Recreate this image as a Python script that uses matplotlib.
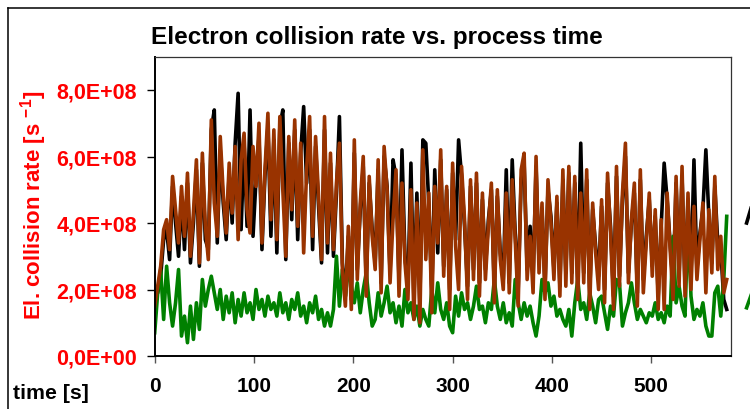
import numpy as np
import matplotlib
matplotlib.use("Agg")
import matplotlib.pyplot as plt
from matplotlib import font_manager
from matplotlib.ticker import FuncFormatter, MultipleLocator
from matplotlib.lines import Line2D

# collision rates in units of 1E+08 1/s, sampled every 3 s
brown = [
    1.5, 2.1, 2.7, 3.8, 4.1, 3.2, 5.4, 4.4, 3.4, 5.1,
    3.6, 5.5, 3.0, 4.3, 5.9, 2.8, 6.1, 3.9, 2.9, 7.1,
    4.6, 3.6, 6.6, 4.9, 3.7, 5.8, 4.3, 6.3, 3.5, 5.9,
    6.7, 4.4, 3.7, 6.3, 5.1, 7.0, 3.4, 5.6, 7.3, 4.1,
    6.8, 3.5, 7.2, 5.0, 3.0, 6.6, 4.4, 7.1, 3.9, 6.4,
    3.1, 5.6, 7.2, 3.6, 6.6, 4.8, 2.9, 7.2, 3.4, 6.1,
    3.2, 5.2, 6.4, 2.6, 1.5, 3.9, 1.4, 6.5, 2.3, 4.6,
    6.0, 1.8, 5.4, 3.6, 2.6, 5.9, 1.9, 6.3, 5.0, 2.2,
    4.1, 5.6, 1.8, 5.2, 2.8, 1.7, 5.0, 1.1, 4.6, 1.0,
    6.2, 2.9, 4.9, 1.3, 5.1, 3.4, 6.2, 2.4, 5.1, 1.4,
    5.8, 3.3, 2.0, 5.7, 4.1, 1.7, 5.3, 2.3, 5.5, 1.8,
    4.9, 2.3, 3.9, 5.2, 1.6, 5.0, 2.9, 2.0, 4.9, 1.9,
    5.3, 3.5, 1.5, 5.6, 6.1, 2.3, 3.6, 1.9, 6.0, 2.5,
    4.6, 1.7, 5.3, 4.0, 2.3, 4.8, 1.8, 5.6, 2.1, 5.7,
    2.2, 5.4, 1.7, 4.9, 2.2, 5.6, 1.4, 4.6, 3.1, 2.0,
    4.7, 1.6, 5.5, 3.7, 1.4, 5.7, 2.1, 4.9, 6.4, 2.2,
    4.1, 5.2, 1.5, 5.6, 1.9, 3.4, 4.9, 2.4, 4.4, 1.4,
    4.1, 1.4, 4.9, 3.2, 1.7, 5.4, 2.1, 5.7, 1.8, 4.9,
    2.0, 4.5, 2.3, 3.5, 4.6, 1.9, 4.4, 2.5, 5.4, 2.6,
    3.6, 1.9, 2.3]

black = [
    1.7, 1.9, 2.4, 3.5, 3.8, 2.9, 5.1, 4.0, 3.0, 4.8,
    3.2, 5.2, 2.8, 4.0, 5.6, 2.7, 5.8, 3.5, 3.2, 6.8,
    7.4, 3.4, 6.2, 4.6, 3.5, 5.5, 4.0, 6.4, 7.9, 3.8,
    6.4, 3.9, 7.4, 3.6, 5.3, 6.6, 3.2, 5.4, 6.9, 3.6,
    6.5, 3.1, 6.9, 7.4, 2.9, 6.4, 4.1, 6.8, 3.5, 6.1,
    7.5, 5.2, 6.8, 3.2, 6.3, 4.5, 2.8, 6.8, 3.1, 5.8,
    3.0, 4.9, 7.2, 2.8, 1.8, 3.6, 1.7, 6.1, 2.6, 4.4,
    5.7, 2.1, 5.2, 3.8, 2.8, 5.6, 2.2, 6.0, 5.1, 2.5,
    5.9, 5.4, 2.3, 6.2, 3.0, 2.1, 5.8, 1.7, 4.9, 1.6,
    6.5, 6.4, 4.6, 1.9, 5.6, 3.1, 5.9, 2.7, 5.0, 2.0,
    5.5, 3.5, 6.5, 5.4, 3.9, 2.1, 5.1, 2.6, 5.2, 2.2,
    4.7, 2.6, 4.1, 5.0, 2.0, 4.8, 3.1, 2.3, 5.6, 2.2,
    5.9, 3.7, 2.0, 5.3, 5.8, 2.6, 3.9, 2.3, 5.7, 2.8,
    4.4, 2.1, 5.0, 4.2, 2.6, 4.6, 2.1, 5.3, 2.5, 5.5,
    2.5, 5.2, 2.1, 6.4, 2.5, 5.3, 1.9, 4.4, 3.3, 2.4,
    4.5, 2.0, 5.2, 3.9, 1.8, 5.4, 2.4, 4.7, 6.0, 2.5,
    4.0, 4.9, 1.9, 5.3, 2.3, 3.6, 4.7, 2.7, 4.2, 1.8,
    3.9, 5.8, 4.7, 3.4, 2.1, 5.2, 2.4, 5.4, 2.1, 4.7,
    2.4, 5.9, 2.6, 3.7, 4.4, 6.2, 4.2, 2.8, 5.1, 3.4,
    3.2, 1.7, 1.4]

green = [
    0.7, 1.9, 2.6, 1.1, 2.7, 1.6, 0.9, 1.6, 2.6, 0.6,
    1.2, 0.4, 1.5, 0.5, 1.6, 0.8, 2.3, 1.5, 2.0, 2.4,
    1.9, 1.4, 2.0, 1.1, 1.8, 1.3, 1.9, 1.0, 1.7, 1.2,
    1.9, 1.3, 1.6, 1.1, 2.0, 1.4, 1.7, 1.2, 1.8, 1.4,
    1.6, 1.2, 1.9, 1.3, 1.6, 1.1, 1.7, 1.4, 1.9, 1.2,
    1.5, 1.0, 1.6, 1.3, 1.8, 1.1, 1.4, 0.9, 1.3, 0.9,
    1.4, 3.0, 1.5, 2.6, 1.8, 2.7, 2.1, 1.6, 2.2, 1.3,
    2.0, 2.5, 1.6, 0.9, 1.1, 1.9, 1.2, 1.6, 2.1, 1.3,
    1.6, 1.0, 1.5, 0.9, 2.0, 1.3, 1.6, 1.1, 1.5, 0.9,
    1.4, 1.1, 0.9, 2.0, 1.3, 2.2, 1.4, 1.1, 1.6, 0.9,
    0.7, 1.8, 1.2, 1.9, 1.4, 1.6, 1.1, 1.5, 2.1, 1.4,
    1.5, 1.0, 1.6, 1.4, 2.3, 1.5, 1.1, 1.6, 1.0, 1.3,
    0.9, 2.3, 1.6, 1.1, 1.6, 1.2, 1.5, 1.0, 0.6, 1.2,
    2.3, 1.9, 2.2, 1.5, 1.8, 1.2, 1.4, 1.1, 0.9, 1.4,
    0.6, 1.6, 2.3, 1.4, 1.6, 1.1, 1.9, 1.5, 1.0, 1.7,
    1.8, 1.3, 0.8, 1.5, 1.2, 2.3, 2.2, 0.9, 1.3, 1.6,
    2.2, 1.6, 1.1, 1.4, 1.2, 1.0, 1.3, 1.2, 1.6, 1.1,
    1.3, 1.0, 1.5, 1.2, 3.6, 1.6, 2.1, 1.5, 1.2, 4.1,
    1.8, 1.1, 1.4, 1.2, 1.6, 0.9, 0.6, 0.6, 1.9, 2.1,
    1.2, 2.3, 4.2]

# stray pieces past the right edge of the axis
tail_time = [596, 602]
tail_black = [4.0, 4.6]
tail_green = [1.45, 1.95]

time = np.arange(len(brown)) * 3
scale = 1e8


def have_font(name):
    try:
        font_manager.findfont(name, fallback_to_default=False)
        return True
    except ValueError:
        return False


plt.rcParams['font.family'] = ['Liberation Sans', 'DejaVu Sans']
plt.rcParams['mathtext.fontset'] = 'custom'
plt.rcParams['mathtext.rm'] = 'Liberation Sans:bold'
plt.rcParams['mathtext.it'] = 'Liberation Sans:bold'
plt.rcParams['mathtext.bf'] = 'Liberation Sans:bold'

# title and x axis texts use a narrow face; without one, shrink to the same width
if have_font('Liberation Sans Narrow'):
    narrow = ['Liberation Sans Narrow', 'Liberation Sans']
    title_size, xtick_size, xlab_size = 19.5, 17.5, 18.5
else:
    narrow = ['Liberation Sans', 'DejaVu Sans']
    title_size, xtick_size, xlab_size = 17.5, 15, 15.3

W, H = 750, 410
fig = plt.figure(figsize=(W / 100, H / 100), dpi=100)
ax = fig.add_axes([154.7 / W, 53 / H, 576 / W, 299.25 / H])

lw = 2.6
ax.plot(time, np.array(black) * scale, color='black', lw=lw)
ax.plot(time, np.array(green) * scale, color='#008000', lw=lw)
ax.plot(time, np.array(brown) * scale, color='#993300', lw=lw)
ax.plot(tail_time, np.array(tail_black) * scale, color='black', lw=lw, clip_on=False)
ax.plot(tail_time, np.array(tail_green) * scale, color='#008000', lw=lw, clip_on=False)

ax.set_xlim(0, 580)
ax.set_ylim(0, 9e8)
ax.xaxis.set_major_locator(MultipleLocator(100))
ax.yaxis.set_major_locator(MultipleLocator(2e8))
ax.yaxis.set_major_formatter(FuncFormatter(lambda v, p: f"{v:.1E}".replace('.', ',')))

for s in ['left', 'bottom']:
    ax.spines[s].set_linewidth(1.4)
    ax.spines[s].set_color('black')
for s in ['top', 'right']:
    ax.spines[s].set_linewidth(0.9)
    ax.spines[s].set_color('#333333')

ax.tick_params(axis='y', direction='out', length=5.8, width=1.0, color='black',
               pad=7, labelcolor='red', labelsize=15.5)
ax.tick_params(axis='x', direction='out', length=5.2, width=1.0, color='#555555',
               pad=9, labelcolor='black', labelsize=xtick_size)
for lab in ax.get_yticklabels():
    lab.set_fontweight('bold')
for lab in ax.get_xticklabels():
    lab.set_fontweight('bold')
    lab.set_family(narrow)

fig.text(151 / W, 1 - 44.3 / H, 'Electron collision rate vs. process time',
         ha='left', va='baseline', fontsize=title_size, fontweight='bold', family=narrow)
fig.text(12.7 / W, 1 - 399 / H, 'time [s]', ha='left', va='baseline',
         fontsize=xlab_size, fontweight='bold', family=narrow)
fig.text(34 / W, 1 - 205 / H, r'El. collision rate [s $^{-1}$]', rotation=90,
         ha='center', va='center', fontsize=16, fontweight='bold', color='red')

# outer chart frame
fx, fy = 8 / W, 1 - 9 / H
fig.add_artist(Line2D([fx, fx], [-0.05, fy], color='black', lw=1.1))
fig.add_artist(Line2D([fx, 1.05], [fy, fy], color='black', lw=1.1))

fig.savefig('out.png', dpi=100)
